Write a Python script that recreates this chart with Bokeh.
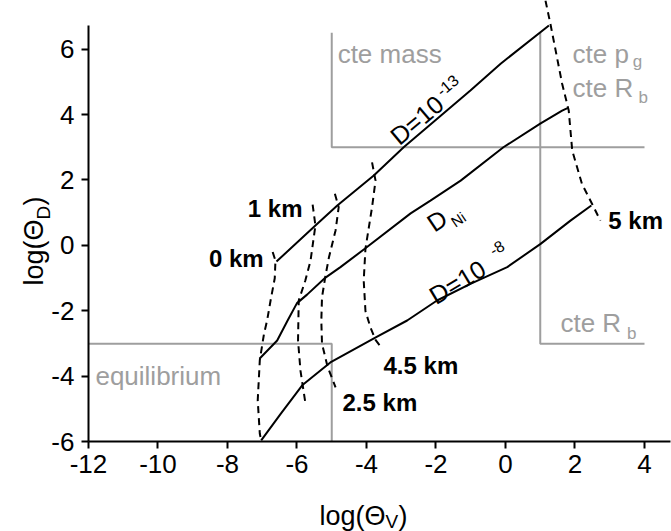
import math
from bokeh.plotting import figure
from bokeh.models import Range1d, FixedTicker, Label
from bokeh.embed import file_html
from bokeh.resources import INLINE

# ---------------- data ----------------
x_ticks = [-12, -10, -8, -6, -4, -2, 0, 2, 4]
y_ticks = [-6, -4, -2, 0, 2, 4, 6]

# solid curves (log Theta_V, log Theta_D)
d13_x = [-6.59, -5.47, -4.84, -3.79, -2.93, -1.01, -0.14, 1.25]
d13_y = [-0.49, 0.61, 1.22, 2.14, 3.00, 4.73, 5.55, 6.72]

dni_x = [-7.08, -6.57, -6.27, -6.00, -5.71, -5.18, -4.75, -4.05, -2.73, -2.16, -1.29, -0.06, 1.00, 1.63, 1.80]
dni_y = [-3.46, -2.90, -2.29, -1.76, -1.50, -0.98, -0.66, -0.10, 0.98, 1.37, 1.98, 3.00, 3.72, 4.12, 4.20]

d8_x = [-7.03, -6.47, -5.85, -5.04, -3.72, -2.83, -1.97, -1.01, 0.05, 1.01, 1.87, 2.47]
d8_y = [-5.95, -5.14, -4.27, -3.57, -2.80, -2.29, -1.68, -1.17, -0.66, 0.05, 0.76, 1.22]

# dashed depth isolines
km0_x = [-6.70, -6.62, -6.64, -6.76, -6.86, -6.95, -7.07, -7.13, -7.07, -7.03]
km0_y = [-0.20, -0.46, -1.00, -1.68, -2.29, -2.70, -3.50, -4.73, -5.75, -5.95]

km1_x = [-5.55, -5.47, -5.53, -5.61, -5.76, -5.95, -5.97, -5.90, -5.76]
km1_y = [1.25, 0.61, 0.15, -0.46, -1.07, -1.68, -2.90, -3.82, -4.80]

km25_x = [-4.91, -4.80, -4.89, -5.08, -5.18, -5.28, -5.30, -5.28, -5.12, -4.89]
km25_y = [1.58, 1.17, 0.46, -0.36, -0.92, -1.58, -2.30, -3.00, -3.70, -4.33]

km45_x = [-3.84, -3.74, -3.84, -4.03, -4.08, -4.03, -3.89, -3.74, -3.55]
km45_y = [2.54, 1.98, 1.17, -0.10, -1.07, -2.00, -2.49, -2.88, -3.15]

km5_x = [1.15, 1.29, 1.63, 1.82, 1.92, 2.20, 2.54, 2.73]
km5_y = [7.48, 6.78, 4.94, 4.12, 2.90, 1.88, 1.17, 0.76]

# grey regime boundaries
eq_x = [-12, -5, -5]
eq_y = [-3, -3, -6]
mass_x = [-5, -5, 4]
mass_y = [6.5, 3, 3]
rb_x = [1, 1, 4]
rb_y = [6.5, -3, -3]

# ---------------- figure ----------------
# the frame covers the whole canvas; axes are pinned at x=-12 / y=-6
p = figure(width=671, height=531,
           x_range=Range1d(-14.532, 4.777), y_range=Range1d(-8.733, 7.481),
           output_backend="svg", toolbar_location=None,
           min_border_left=0, min_border_right=0,
           min_border_top=0, min_border_bottom=0)
p.outline_line_color = None
p.grid.visible = False
p.background_fill_color = "white"
p.border_fill_color = "white"

FONT = "Liberation Sans"
for ax in (p.xaxis[0], p.yaxis[0]):
    ax.axis_line_width = 2
    ax.axis_line_color = "black"
    ax.major_tick_line_width = 2
    ax.major_tick_line_color = "black"
    ax.major_tick_out = 7
    ax.major_tick_in = 0
    ax.minor_tick_line_color = None
    ax.major_label_text_font = FONT
    ax.major_label_text_font_size = "26px"
    ax.major_label_text_color = "black"
p.xaxis.fixed_location = -6
p.yaxis.fixed_location = -12
p.xaxis.bounds = (-12, 4.75)
p.yaxis.bounds = (-6, 6.72)
p.xaxis.ticker = FixedTicker(ticks=x_ticks)
p.yaxis.ticker = FixedTicker(ticks=y_ticks)
p.xaxis.major_label_overrides = {t: str(t) for t in x_ticks}
p.yaxis.major_label_overrides = {t: str(t) for t in y_ticks}
p.xaxis.major_label_standoff = 6
p.yaxis.major_label_standoff = 7

GREY = "#9e9e9e"
for xs, ys in ((eq_x, eq_y), (mass_x, mass_y), (rb_x, rb_y)):
    p.line(xs, ys, line_color=GREY, line_width=2)

for xs, ys in ((d13_x, d13_y), (dni_x, dni_y), (d8_x, d8_y)):
    p.line(xs, ys, line_color="black", line_width=2)

for xs, ys in ((km0_x, km0_y), (km1_x, km1_y), (km25_x, km25_y),
               (km45_x, km45_y), (km5_x, km5_y)):
    p.line(xs, ys, line_color="black", line_width=2, line_dash="7 5")


def lab(x, y, text, size, color="black", bold=False, angle=0.0, align="left"):
    p.add_layout(Label(x=x, y=y, text=text, text_font=FONT,
                       text_font_size=f"{size}px", text_color=color,
                       text_font_style="bold" if bold else "normal",
                       angle=math.radians(angle), text_align=align,
                       text_baseline="alphabetic"))


# regime labels (grey)
lab(-4.83, 5.86, "cte mass", 26, GREY)
lab(1.93, 5.86, "cte p", 26, GREY)
lab(3.66, 5.62, "g", 17, GREY)
lab(1.93, 4.82, "cte R", 26, GREY)
lab(3.83, 4.52, "b", 17, GREY)
lab(1.58, -2.38, "cte R", 26, GREY)
lab(3.50, -2.69, "b", 17, GREY)
lab(-11.8, -3.97, "equilibrium", 26, GREY)

# depth labels (bold)
lab(-5.84, 1.13, "1 km", 24, bold=True, align="right")
lab(-6.96, -0.40, "0 km", 24, bold=True, align="right")
lab(-3.51, -3.66, "4.5 km", 24, bold=True)
lab(-4.69, -4.79, "2.5 km", 24, bold=True)
lab(2.96, 0.76, "5 km", 24, bold=True)

# curve labels
lab(-3.22, 3.24, "D=10", 25, angle=40)
lab(-1.93, 4.67, "-13", 16, angle=40)
lab(-2.19, 0.61, "D", 25, angle=34)
lab(-1.525, 0.67, "Ni", 15, angle=34)
lab(-2.13, -1.59, "D=10", 25, angle=31)
lab(-0.43, -0.18, "-8", 16, angle=31)

# axis titles
lab(-5.35, -8.27, "log(\u0398", 27)
lab(-3.45, -8.44, "V", 19)
lab(-3.08, -8.27, ")", 27)
lab(-13.58, -1.22, "log(\u0398", 27, angle=90)
lab(-13.295, 0.794, "D", 19, angle=90)
lab(-13.58, 1.22, ")", 27, angle=90)

open("out.html", "w").write(file_html(p, INLINE))
